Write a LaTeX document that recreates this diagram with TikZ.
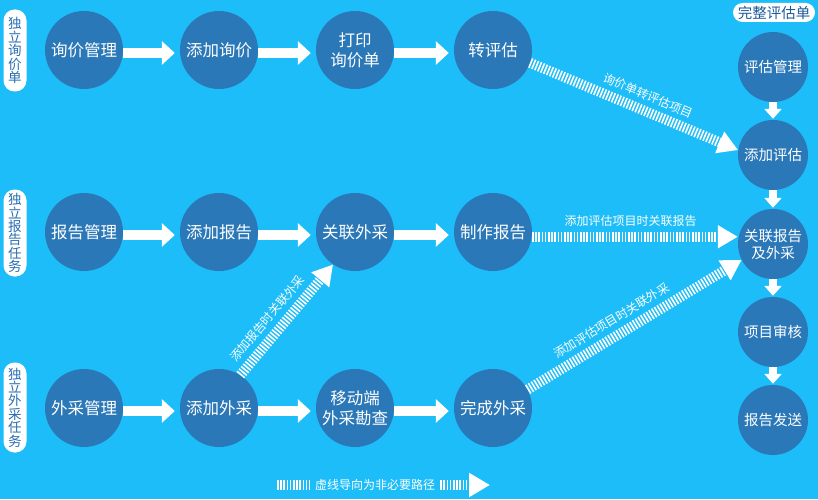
\documentclass[tikz,border=0pt]{standalone}
\usepackage{fontspec}
\setmainfont{Noto Sans CJK SC}
\usetikzlibrary{arrows.meta}

\definecolor{bgblue}{RGB}{28,189,248}
\definecolor{nodeblue}{RGB}{43,120,184}
\definecolor{tagblue}{RGB}{40,110,178}
\definecolor{tagnavy}{RGB}{30,90,155}

\tikzset{
  stage/.style={circle, fill=nodeblue, minimum size=78pt, inner sep=0pt,
    text=white, align=center, font=\fontsize{16.5}{20}\selectfont},
  review/.style={stage, minimum size=70pt, font=\fontsize{14.5}{17}\selectfont},
  flow/.style={draw=white, line width=10pt,
    -{Triangle[length=13pt,width=23pt]}, shorten >=5pt},
  stepdown/.style={draw=white, line width=8pt,
    -{Triangle[length=10pt,width=17pt]}, shorten >=1pt},
  optional/.style={draw=white, line width=10pt, dash pattern=on 1.6pt off 1.6pt,
    -{Triangle[length=20pt,width=22pt]}},
  optlabel/.style={text=white, font=\fontsize{12}{12}\selectfont, sloped,
    above=4pt, inner sep=1pt},
  tag/.style={fill=white, rounded corners=11pt, text=tagblue, align=center,
    minimum width=23pt, inner xsep=0pt, inner ysep=0pt,
    font=\fontsize{13.5}{13.4}\selectfont},
}

\begin{document}
\begin{tikzpicture}[x=1pt,y=1pt]
  % canvas
  \fill[bgblue] (0,0) rectangle (818,499);
  \useasboundingbox (0,0) rectangle (818,499);

  % track tags
  \node[tag, minimum height=82pt] (t1) at (15,448.5) {独\\立\\询\\价\\单};
  \node[tag, minimum height=87pt] (t2) at (15,266) {独\\立\\报\\告\\任\\务};
  \node[tag, minimum height=90pt] (t3) at (15,91.5) {独\\立\\外\\采\\任\\务};
  \node[tag, rounded corners=9.5pt, minimum width=82pt, minimum height=19pt,
        text=tagnavy, font=\fontsize{14.5}{15}\selectfont] (t4) at (774,486.5) {完整评估单};

  % inquiry track
  \node[stage] (xjgl) at (84,449) {询价管理};
  \node[stage] (tjxj) at (219,449) {添加询价};
  \node[stage] (dyxj) at (355,449) {打印\\询价单};
  \node[stage] (zpg)  at (493,449) {转评估};

  % report track
  \node[stage] (bggl) at (84,267) {报告管理};
  \node[stage] (tjbg) at (219,267) {添加报告};
  \node[stage] (glwc) at (355,267) {关联外采};
  \node[stage] (zzbg) at (493,267) {制作报告};

  % outsourcing track
  \node[stage] (wcgl) at (84,91) {外采管理};
  \node[stage] (tjwc) at (219,91) {添加外采};
  \node[stage] (ydwc) at (355,91) {移动端\\外采勘查};
  \node[stage] (wcwc) at (493,91) {完成外采};

  % full assessment column
  \node[review] (pggl) at (773,432) {评估管理};
  \node[review] (tjpg) at (773,344) {添加评估};
  \node[review] (glbg) at (773,255) {关联报告\\及外采};
  \node[review] (xmsh) at (773,167) {项目审核};
  \node[review] (bgfs) at (773,79)  {报告发送};

  % main flow arrows
  \foreach \a/\b in {xjgl/tjxj, tjxj/dyxj, dyxj/zpg,
                     bggl/tjbg, tjbg/glwc, glwc/zzbg,
                     wcgl/tjwc, tjwc/ydwc, ydwc/wcwc}
    \draw[flow] ([yshift=-3pt]\a.east) -- ([yshift=-3pt]\b.west);

  \foreach \a/\b in {pggl/tjpg, tjpg/glbg, glbg/xmsh, xmsh/bgfs}
    \draw[stepdown] (\a.south) -- (\b.north);

  % optional links
  \draw[optional] (zpg.-19) -- (tjpg.172)
    node[optlabel, pos=0.54] {询价单转评估项目};
  \draw[optional] (zzbg.-7) -- (zzbg.-7 -| glbg.west)
    node[optlabel, pos=0.48] {添加评估项目时关联报告};
  \draw[optional] (wcwc.28) -- (glbg.207)
    node[optlabel, pos=0.43] {添加评估项目时关联外采};
  \draw[optional] (tjwc.57) -- (glwc.236)
    node[optlabel, pos=0.42] {添加报告时关联外采};

  % legend
  \node[text=white, font=\fontsize{12}{12}\selectfont, inner sep=0pt] (leg) at (375,14) {虚线导向为非必要路径};
  \coordinate (lg1) at (277,14);
  \coordinate (lg2) at (490,14);
  \draw[draw=white, line width=10pt, dash pattern=on 1.6pt off 1.6pt]
    (lg1) -- ([xshift=-5pt]leg.west);
  \draw[optional, -{Triangle[length=21pt,width=23pt]}]
    ([xshift=5pt]leg.east) -- (lg2);
\end{tikzpicture}
\end{document}
